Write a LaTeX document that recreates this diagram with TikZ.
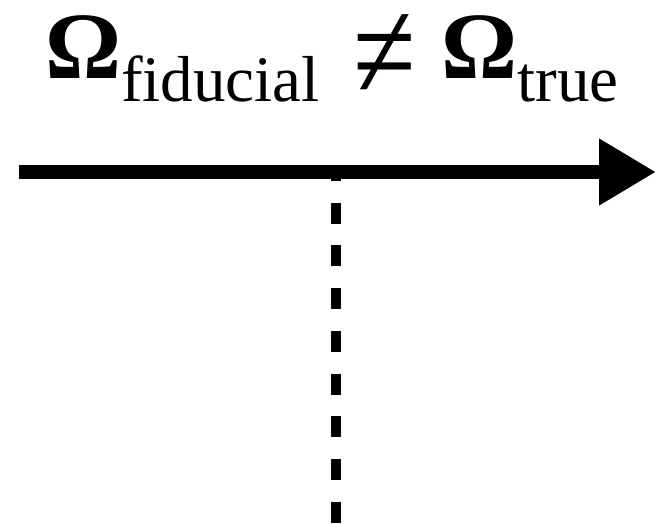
\documentclass[tikz,border=0pt]{standalone}
\usepackage{fontspec}
\setmainfont{Liberation Serif}
\usetikzlibrary{arrows.meta,positioning}
\newcommand{\subtext}[1]{\raisebox{-23pt}{\fontsize{65}{65}\selectfont #1}}
\newcommand{\bigneq}{\raisebox{-21pt}{\scalebox{1.2}[1.5]{≠}}}
\tikzset{
  axisarrow/.style={line width=14pt,-{Triangle[length=57pt,width=63pt]}},
  fidline/.style={line width=10pt,dash pattern=on 21pt off 21.7pt,dash phase=12pt},
  titletext/.style={inner sep=0pt,anchor=base west,font=\fontsize{95}{95}\selectfont}
}
\begin{document}
\begin{tikzpicture}[x=1pt,y=-1pt]
\useasboundingbox (0,0) rectangle (656,523);
\coordinate (axisstart) at (19,172);
\coordinate (axisend) at (656,172);
\coordinate (fidtop) at (336,172);
\coordinate (fidbottom) at (336,523);
\node[titletext] (title) at (45,78)
  {{\bfseries Ω}\subtext{fiducial}\hspace{34pt}\bigneq\hspace{25pt}{\bfseries Ω}\subtext{true}};
\draw[fidline] (fidtop) -- (fidbottom);
\draw[axisarrow] (axisstart) -- (axisend);
\end{tikzpicture}
\end{document}
